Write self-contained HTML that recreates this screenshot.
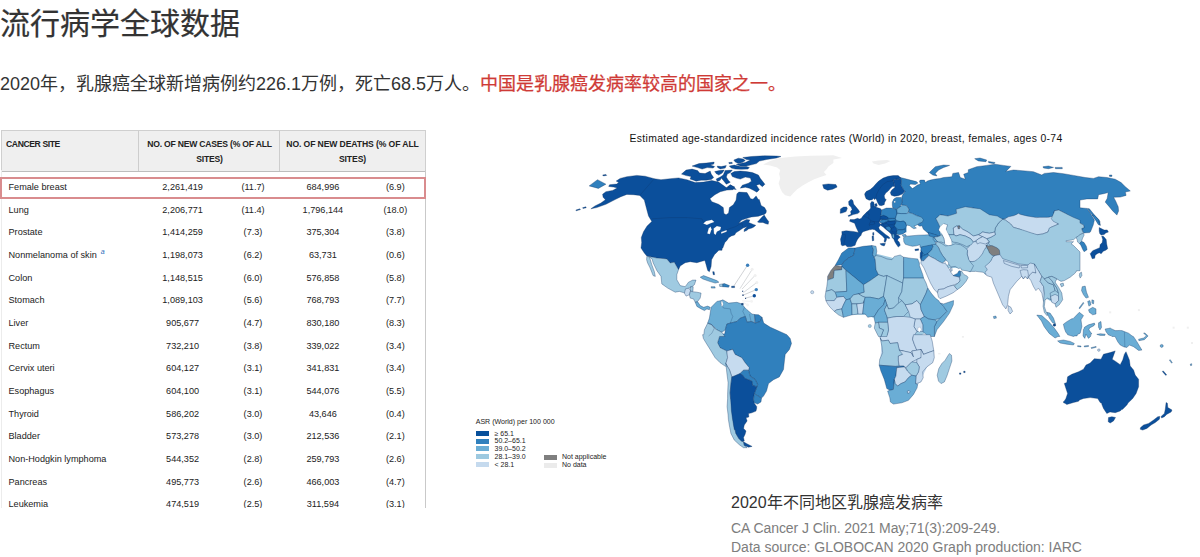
<!DOCTYPE html>
<html lang="zh-CN"><head><meta charset="utf-8"><title>流行病学全球数据</title>
<style>
html,body{margin:0;padding:0;background:#fff;}
body{width:1200px;height:557px;position:relative;overflow:hidden;font-family:"Liberation Sans",sans-serif;color:#333;}
.abs{position:absolute;white-space:nowrap;}
#title{left:0;top:4.3px;font-size:30px;line-height:40px;color:#333;letter-spacing:0;-webkit-text-stroke:0.22px #333;}
#sub{left:0;top:71px;font-size:18px;line-height:26px;color:#333;}
#sub b{color:#cf3a36;font-weight:500;-webkit-text-stroke:0.25px #cf3a36;}
#tbl{position:absolute;left:0;top:130px;width:427px;height:378px;overflow:hidden;}
#tbl .hd{position:absolute;left:1px;top:0px;width:424.5px;height:41.8px;background:#efefef;border:1px solid #cfcfcf;border-bottom:1px solid #bdbdbd;box-sizing:border-box;}
#tbl .vs{position:absolute;top:1px;width:1px;height:40.3px;background:#cdcdcd;}
#tbl .lb{position:absolute;left:1px;top:40px;width:1px;height:340px;background:#ececec;}
#tbl .rb{position:absolute;left:424.5px;top:40px;width:1px;height:340px;background:#c9c9c9;}
#tbl .h{position:absolute;font-weight:bold;font-size:8.6px;line-height:15.3px;color:#222;text-align:center;white-space:nowrap;}
#tbl .red{position:absolute;left:0px;top:46.8px;width:426px;height:22.2px;border:2px solid #d98c8e;box-sizing:border-box;}
.r{position:absolute;left:0;width:427px;height:16px;font-size:9.15px;line-height:16px;color:#222;top:0;}
.r span{position:absolute;top:-130px;white-space:nowrap;}
.r .c0{left:8.5px;}
.r .c1{left:132.6px;width:100px;text-align:center;}
.r .c2{left:203px;width:100px;text-align:center;}
.r .c3{left:272.9px;width:100px;text-align:center;}
.r .c4{left:345.3px;width:100px;text-align:center;}
.r .sup{position:relative;top:-4px;left:4px;font-size:7px;font-style:italic;color:#2a6ebb;}
#maptitle{left:629.5px;top:130.7px;font-size:10.4px;letter-spacing:0.33px;line-height:16px;color:#111;}
#cap1{left:731px;top:492px;font-size:16px;line-height:22px;color:#333;}
#cap2{left:731px;top:518px;font-size:14px;letter-spacing:-0.06px;line-height:20px;color:#7d7d7d;}
#cap3{left:731px;top:537px;font-size:14px;line-height:20px;color:#7d7d7d;}
#map{position:absolute;left:0;top:0;width:1200px;height:557px;pointer-events:none;}
.lg{font-size:7px;line-height:8px;color:#222;}
.lgb{position:absolute;width:13px;height:5px;}
</style></head><body>
<div id="title" class="abs">流行病学全球数据</div>
<div id="sub" class="abs">2020年，乳腺癌全球新增病例约226.1万例，死亡68.5万人。<b>中国是乳腺癌发病率较高的国家之一。</b></div>

<div id="tbl">
 <div class="hd"></div>
 <div class="vs" style="left:138px"></div>
 <div class="vs" style="left:279px"></div>
 <div class="lb"></div><div class="rb"></div>
 <div class="h" style="left:6px;top:7px;text-align:left;letter-spacing:-0.39px">CANCER SITE</div>
 <div class="h" style="left:139.5px;width:140px;top:7px;letter-spacing:-0.21px">NO. OF NEW CASES (% OF ALL<br>SITES)</div>
 <div class="h" style="left:280px;width:145px;top:7px;letter-spacing:-0.1px">NO. OF NEW DEATHS (% OF ALL<br>SITES)</div>
 <div class="red"></div>
<div class="r" style="top:179.20px"><span class="c0">Female breast</span><span class="c1">2,261,419</span><span class="c2">(11.7)</span><span class="c3">684,996</span><span class="c4">(6.9)</span></div>
<div class="r" style="top:201.84px"><span class="c0">Lung</span><span class="c1">2,206,771</span><span class="c2">(11.4)</span><span class="c3">1,796,144</span><span class="c4">(18.0)</span></div>
<div class="r" style="top:224.48px"><span class="c0">Prostate</span><span class="c1">1,414,259</span><span class="c2">(7.3)</span><span class="c3">375,304</span><span class="c4">(3.8)</span></div>
<div class="r" style="top:247.12px"><span class="c0">Nonmelanoma of skin<span class="sup">a</span></span><span class="c1">1,198,073</span><span class="c2">(6.2)</span><span class="c3">63,731</span><span class="c4">(0.6)</span></div>
<div class="r" style="top:269.76px"><span class="c0">Colon</span><span class="c1">1,148,515</span><span class="c2">(6.0)</span><span class="c3">576,858</span><span class="c4">(5.8)</span></div>
<div class="r" style="top:292.40px"><span class="c0">Stomach</span><span class="c1">1,089,103</span><span class="c2">(5.6)</span><span class="c3">768,793</span><span class="c4">(7.7)</span></div>
<div class="r" style="top:315.04px"><span class="c0">Liver</span><span class="c1">905,677</span><span class="c2">(4.7)</span><span class="c3">830,180</span><span class="c4">(8.3)</span></div>
<div class="r" style="top:337.68px"><span class="c0">Rectum</span><span class="c1">732,210</span><span class="c2">(3.8)</span><span class="c3">339,022</span><span class="c4">(3.4)</span></div>
<div class="r" style="top:360.32px"><span class="c0">Cervix uteri</span><span class="c1">604,127</span><span class="c2">(3.1)</span><span class="c3">341,831</span><span class="c4">(3.4)</span></div>
<div class="r" style="top:382.96px"><span class="c0">Esophagus</span><span class="c1">604,100</span><span class="c2">(3.1)</span><span class="c3">544,076</span><span class="c4">(5.5)</span></div>
<div class="r" style="top:405.60px"><span class="c0">Thyroid</span><span class="c1">586,202</span><span class="c2">(3.0)</span><span class="c3">43,646</span><span class="c4">(0.4)</span></div>
<div class="r" style="top:428.24px"><span class="c0">Bladder</span><span class="c1">573,278</span><span class="c2">(3.0)</span><span class="c3">212,536</span><span class="c4">(2.1)</span></div>
<div class="r" style="top:450.88px"><span class="c0">Non-Hodgkin lymphoma</span><span class="c1">544,352</span><span class="c2">(2.8)</span><span class="c3">259,793</span><span class="c4">(2.6)</span></div>
<div class="r" style="top:473.52px"><span class="c0">Pancreas</span><span class="c1">495,773</span><span class="c2">(2.6)</span><span class="c3">466,003</span><span class="c4">(4.7)</span></div>
<div class="r" style="top:496.16px"><span class="c0">Leukemia</span><span class="c1">474,519</span><span class="c2">(2.5)</span><span class="c3">311,594</span><span class="c4">(3.1)</span></div>
</div>

<div id="maptitle" class="abs">Estimated age-standardized incidence rates (World) in 2020, breast, females, ages 0-74</div>
<svg id="map" width="1200" height="557" viewBox="0 0 1200 557">
<g stroke="none">
<polygon points="830.1,276.4 845.1,263.0 873.5,253.0 900.2,259.7 918.6,264.7 925.3,286.4 936.9,301.4 947.0,309.8 935.3,326.5 920.3,336.0 880.2,336.0 876.8,319.8 866.8,314.8 845.1,314.8 833.4,308.1 827.6,293.1" fill="#9fcae1"/>
<polygon points="881.8,336.0 930.2,336.0 932.7,356.0 920.2,381.1 910.1,397.8 893.4,401.9 885.1,377.7 880.1,364.4" fill="#c6dbef"/>
<polygon points="940.0,216.0 1000.0,220.0 1002.7,258.7 973.3,268.0 946.7,268.0 937.3,236.0" fill="#9fcae1"/>
<polygon points="882.7,211.1 896.3,209.3 900.3,206.1 906.4,206.1 906.4,232.2 896.3,234.2 881.2,222.2" fill="#3080bd"/>
<polygon points="920.8,247.5 931.5,245.4 929.4,255.1 921.8,259.9" fill="#3080bd"/>
<polygon points="1043.5,281.4 1055.1,281.4 1060.2,293.1 1056.8,304.8 1045.1,298.1" fill="#9fcae1"/>
</g>
<g stroke-linejoin="round" stroke="#0c2f5e" stroke-opacity="0.85" stroke-width="0.4">
<path d="M590.9,208.8 L596.7,207.6 L605.9,204.3 L615.1,199.6 L620.9,196.7 L626.8,194.4 L633.4,194.7 L639.8,195.4 L644.3,200.1 L646.5,208.4 L648.5,215.9 L651.8,221.5 L647.1,226.0 L643.5,231.8 L641.3,237.6 L641.7,242.4 L641.0,248.0 L644.3,253.0 L646.8,256.0 L656.8,258.0 L666.8,258.9 L670.2,263.0 L674.3,262.2 L678.5,269.7 L680.2,266.0 L685.2,262.7 L690.2,261.7 L696.9,262.7 L702.7,261.0 L704.9,260.5 L706.1,264.7 L707.7,270.5 L709.4,271.7 L711.1,266.4 L711.6,259.7 L714.4,254.7 L718.6,250.5 L719.0,250.3 L722.0,250.3 L722.2,248.3 L722.8,248.0 L724.4,243.8 L725.0,242.3 L725.1,242.2 L726.9,240.4 L728.7,237.7 L731.4,235.9 L734.6,235.0 L735.9,232.8 L739.5,230.5 L743.1,228.0 L747.4,226.5 L747.5,226.6 L744.4,229.2 L744.0,231.6 L746.7,230.5 L748.5,228.9 L751.9,228.0 L753.9,226.9 L755.8,225.3 L753.4,224.4 L750.5,223.3 L748.7,222.4 L749.8,219.9 L746.6,219.4 L746.6,219.4 L742.2,221.7 L738.6,223.5 L740.9,220.8 L741.8,220.1 L746.3,218.6 L746.3,218.6 L751.3,217.0 L753.9,216.7 L758.4,216.2 L762.0,214.9 L764.2,214.4 L766.0,213.0 L766.4,210.8 L764.6,207.6 L761.1,205.4 L759.3,199.6 L758.3,199.6 L756.1,195.9 L753.0,199.2 L750.6,198.7 L747.0,192.6 L738.9,192.1 L736.9,193.7 L736.1,200.1 L733.3,204.8 L729.4,207.6 L728.6,213.1 L726.1,214.8 L723.9,213.4 L723.3,207.6 L718.6,204.3 L711.9,201.8 L709.9,198.7 L714.9,194.7 L720.3,191.7 L726.9,190.1 L732.8,189.7 L734.9,187.1 L730.6,185.1 L726.9,188.1 L722.8,185.1 L718.6,182.1 L711.9,180.6 L703.6,182.1 L695.2,182.6 L686.9,179.7 L678.5,177.9 L670.2,178.7 L661.0,179.7 L654.3,178.7 L645.1,176.2 L636.8,175.4 L626.8,176.7 L620.1,178.4 L616.2,181.1 L618.7,182.6 L616.7,184.1 L609.6,184.7 L608.7,186.4 L613.7,187.1 L617.2,188.1 L612.6,190.4 L605.9,191.7 L602.6,194.2 L603.1,197.2 L605.4,199.7 L600.9,203.1 L595.0,205.9Z" fill="#0b4f9b"/>
<path d="M589.2,185.9 L597.5,179.7 L605.9,184.2 L598.4,188.4Z" fill="#3080bd"/>
<path d="M602.6,175.0 L605.9,174.4 L606.7,175.4 L603.4,175.9Z" fill="#0b4f9b"/>
<path d="M575.8,210.1 L580.0,208.8 L580.4,209.6 L576.3,210.8Z" fill="#0b4f9b"/>
<path d="M582.5,207.8 L585.9,206.8 L586.2,207.8 L583.0,208.4Z" fill="#0b4f9b"/>
<path d="M742.8,157.5 L746.4,159.5 L750.4,160.1 L745.3,162.6 L740.3,163.6 L736.3,164.6 L740.3,165.9 L746.4,166.1 L750.4,165.1 L756.4,163.6 L759.4,161.1 L766.5,159.5 L776.5,158.0 L781.0,156.5 L776.5,156.0 L764.4,155.8 L751.4,156.5Z" fill="#0b4f9b"/>
<path d="M733.8,160.1 L738.3,158.2 L743.3,159.0 L745.3,160.6 L742.3,162.6 L738.3,163.6 L735.3,162.1Z" fill="#0b4f9b"/>
<path d="M729.3,166.1 L734.3,165.1 L740.3,166.6 L746.4,166.6 L749.4,167.6 L747.9,169.1 L741.3,169.3 L735.3,169.1 L731.3,168.1Z" fill="#0b4f9b"/>
<path d="M728.8,162.5 L732.1,162.3 L732.3,163.5 L729.1,163.7Z" fill="#0b4f9b"/>
<path d="M692.1,166.1 L699.1,163.6 L706.2,163.1 L714.2,162.1 L713.7,164.1 L710.2,165.1 L714.7,166.6 L713.2,168.1 L707.2,167.6 L702.1,169.1 L697.6,167.6Z" fill="#0b4f9b"/>
<path d="M717.2,166.1 L721.2,166.6 L726.3,165.6 L725.2,168.1 L720.2,168.9 L717.7,167.6Z" fill="#0b4f9b"/>
<path d="M681.5,174.1 L686.1,170.1 L692.1,169.1 L697.6,170.6 L699.6,173.1 L705.1,173.6 L710.2,171.1 L711.2,174.1 L713.7,177.6 L711.2,179.6 L706.2,180.2 L701.1,180.2 L696.1,181.2 L693.6,180.2 L690.1,179.1 L691.1,176.6 L686.1,175.6Z" fill="#0b4f9b"/>
<path d="M714.7,171.6 L719.2,170.6 L724.2,170.1 L722.2,173.1 L718.7,175.1 L716.2,173.6Z" fill="#0b4f9b"/>
<path d="M725.2,170.6 L732.3,170.1 L730.3,172.6 L727.3,174.1 L726.3,177.1 L728.3,180.2 L730.3,182.2 L726.3,184.2 L723.2,180.2 L721.2,178.1 L720.2,180.2 L717.2,181.4 L716.2,179.1 L720.2,177.1 L723.2,175.1Z" fill="#0b4f9b"/>
<path d="M730.8,173.6 L734.3,171.6 L740.3,171.1 L746.4,171.6 L752.4,172.6 L758.4,175.1 L760.4,178.6 L764.9,184.2 L762.4,186.7 L759.4,184.2 L756.4,185.2 L759.4,189.7 L756.9,192.2 L753.4,190.2 L749.4,188.2 L745.3,187.2 L740.3,188.2 L742.3,185.2 L748.4,183.2 L751.4,181.2 L750.4,178.1 L745.3,177.1 L740.3,179.1 L736.3,178.1 L732.3,176.6Z" fill="#0b4f9b"/>
<path d="M726.3,187.7 L730.3,184.7 L736.3,189.4 L732.3,188.9 L729.3,187.4Z" fill="#0b4f9b"/>
<path d="M703.2,223.5 L706.1,221.0 L711.9,219.8 L714.4,222.1 L710.2,223.5 L706.9,225.1Z" fill="#ffffff" stroke-opacity="0.35"/>
<path d="M707.2,233.5 L708.6,228.5 L710.6,226.5 L711.6,229.3 L709.9,234.3Z" fill="#ffffff" stroke-opacity="0.35"/>
<path d="M713.6,228.5 L716.9,226.0 L721.1,227.1 L720.3,230.1 L716.9,231.8 L715.6,235.1 L713.9,233.5Z" fill="#ffffff" stroke-opacity="0.35"/>
<path d="M721.1,232.1 L726.9,230.1 L726.6,231.8 L721.1,233.8Z" fill="#ffffff" stroke-opacity="0.35"/>
<path d="M822.6,184.7 L828.4,183.9 L835.9,184.6 L837.1,187.1 L832.6,189.2 L827.6,190.2 L823.8,188.4Z" fill="#0b4f9b"/>
<path d="M871.8,161.4 L878.5,160.4 L886.9,160.0 L890.5,160.9 L885.2,163.4 L878.5,165.0 L873.5,163.4Z" fill="#efefef" stroke="none"/>
<path d="M900.9,185.1 L902.9,188.6 L905.0,191.8 L902.8,194.5 L901.8,197.0 L902.3,201.0 L901.3,204.6 L902.3,205.1 L906.4,205.6 L908.9,209.1 L908.4,212.1 L908.9,212.6 L912.4,213.6 L916.4,215.6 L920.0,216.7 L920.0,221.3 L921.0,222.6 L919.4,223.2 L917.4,224.7 L919.9,226.2 L921.9,225.7 L923.4,229.2 L927.5,232.7 L929.5,234.4 L932.5,234.0 L936.5,235.4 L939.5,236.2 L940.5,234.2 L939.6,232.4 L940.0,232.0 L938.7,230.0 L940.0,227.3 L939.5,226.2 L942.5,224.2 L938.5,223.2 L938.0,222.6 L936.0,218.7 L940.0,214.7 L948.0,216.0 L949.4,215.6 L949.6,215.6 L954.6,216.0 L956.0,216.1 L956.0,213.5 L956.7,213.3 L956.4,211.8 L957.0,210.4 L962.0,208.8 L970.6,207.6 L973.2,208.0 L978.3,209.3 L986.7,214.3 L995.0,216.8 L1001.8,218.8 L1002.7,219.3 L1003.2,219.2 L1003.4,219.3 L1003.9,219.0 L1010.7,217.3 L1014.3,215.5 L1020.0,214.3 L1021.3,215.3 L1030.7,218.0 L1036.6,217.6 L1036.8,217.6 L1045.1,218.4 L1048.8,217.3 L1050.7,217.3 L1051.3,218.7 L1052.3,216.3 L1053.5,215.9 L1054.1,211.9 L1054.6,210.9 L1058.5,210.1 L1059.6,210.5 L1067.0,214.2 L1067.0,215.0 L1070.1,218.0 L1075.1,219.5 L1078.1,222.0 L1083.6,225.1 L1084.1,227.6 L1081.6,228.6 L1082.6,231.6 L1084.1,232.9 L1089.6,232.6 L1089.9,231.9 L1090.5,231.8 L1093.2,225.1 L1094.4,220.1 L1090.5,213.4 L1086.9,208.4 L1080.0,207.8 L1080.0,200.1 L1086.9,198.9 L1097.7,198.9 L1098.5,194.7 L1103.6,193.7 L1108.2,192.6 L1107.2,198.4 L1105.2,202.1 L1108.6,205.9 L1112.7,210.9 L1116.9,215.1 L1118.6,210.9 L1118.2,206.8 L1115.6,200.9 L1113.6,197.2 L1120.3,197.1 L1126.1,195.4 L1125.3,192.1 L1130.3,190.9 L1125.3,186.7 L1121.1,182.6 L1115.2,179.2 L1106.9,177.5 L1098.5,176.7 L1093.5,178.4 L1085.2,177.5 L1073.5,175.4 L1063.5,173.7 L1053.5,172.5 L1044.3,173.4 L1041.8,175.0 L1033.4,171.7 L1025.1,170.9 L1013.4,170.0 L1005.9,171.4 L1010.9,166.4 L1003.4,165.4 L995.0,164.2 L986.7,165.4 L976.7,166.7 L968.3,169.7 L968.3,172.5 L963.7,174.2 L965.3,179.2 L960.3,177.5 L958.6,172.5 L952.8,173.4 L952.0,176.7 L943.6,177.5 L939.9,178.5 L935.4,179.0 L930.4,180.1 L927.4,181.1 L925.4,182.6 L924.4,180.1 L920.4,180.1 L919.4,181.1 L920.4,184.1 L917.4,185.1 L915.4,186.6 L912.4,188.6 L909.4,185.6 L910.4,184.1 L915.4,184.6 L917.9,183.1 L916.4,181.6 L910.4,180.1 L904.4,178.5 L900.2,177.5 L901.4,181.1Z" fill="#3080bd"/>
<path d="M929.4,172.5 L935.3,166.7 L943.6,165.0 L949.6,165.4 L943.6,167.5 L938.6,170.0 L935.3,173.4 L936.9,175.9 L932.8,175.0Z" fill="#3080bd"/>
<path d="M848.6,201.5 L851.1,199.2 L852.9,200.5 L853.6,204.1 L856.1,207.1 L858.6,210.1 L859.6,212.1 L857.6,213.6 L853.1,214.6 L848.6,216.6 L848.1,215.6 L851.1,214.3 L850.6,211.6 L852.1,209.6 L851.1,207.1 L848.9,205.1Z" fill="#0b4f9b"/>
<path d="M840.5,208.9 L843.5,207.1 L846.6,206.9 L847.3,208.6 L846.1,211.6 L842.0,213.1 L840.2,213.3Z" fill="#0b4f9b"/>
<path d="M841.0,244.3 L842.0,245.8 L845.5,245.1 L847.1,246.8 L851.1,246.8 L855.1,245.3 L856.1,242.3 L857.6,239.2 L859.6,236.7 L861.1,235.2 L861.6,233.2 L863.1,231.7 L866.2,230.7 L870.2,229.6 L870.2,229.7 L872.2,229.2 L874.7,229.7 L877.2,231.7 L880.2,234.2 L882.7,236.2 L884.7,238.7 L884.0,241.4 L885.2,242.5 L886.3,240.2 L886.8,237.7 L888.3,238.6 L890.0,238.2 L888.8,236.7 L885.2,234.2 L882.2,231.7 L879.2,229.2 L878.7,227.2 L880.8,225.1 L881.2,225.7 L883.2,227.0 L885.7,229.2 L888.8,231.7 L891.3,234.2 L892.3,237.7 L893.8,239.2 L894.8,241.7 L896.3,244.3 L898.3,247.1 L900.3,245.3 L899.3,242.3 L897.5,240.2 L898.3,238.7 L900.3,237.2 L898.8,235.7 L896.3,234.2 L896.8,231.2 L896.3,228.2 L894.3,225.7 L895.5,223.2 L895.3,220.6 L890.3,221.1 L885.7,221.1 L880.2,224.2 L879.2,222.2 L880.2,220.1 L883.2,219.3 L886.3,219.6 L888.8,218.3 L887.3,216.8 L883.7,215.3 L880.7,216.1 L881.2,213.6 L881.7,209.9 L880.2,208.6 L876.2,207.3 L874.4,206.1 L873.7,202.1 L871.7,201.5 L870.4,203.6 L870.7,207.9 L869.2,210.1 L866.2,212.6 L863.1,215.8 L861.1,218.6 L859.3,219.1 L857.6,218.3 L854.1,219.6 L850.1,219.6 L849.6,221.3 L854.6,223.2 L856.1,227.2 L858.6,232.4 L853.1,231.4 L846.1,230.7 L841.8,231.5 L842.0,234.2 L840.5,239.2 L841.0,242.8Z" fill="#0b4f9b"/>
<path d="M874.7,204.1 L876.7,203.6 L877.2,206.1 L875.4,206.9Z" fill="#0b4f9b"/>
<path d="M879.9,243.8 L883.2,243.3 L885.4,243.5 L884.2,246.0 L881.7,245.3Z" fill="#0b4f9b"/>
<path d="M872.0,236.2 L873.5,235.7 L873.8,240.4 L872.4,240.9Z" fill="#0b4f9b"/>
<path d="M872.7,232.7 L873.8,232.4 L873.9,235.0 L872.8,235.2Z" fill="#0b4f9b"/>
<path d="M879.4,221.1 L883.2,219.6 L887.3,219.6 L888.3,221.1 L885.7,222.2 L883.2,223.0 L880.2,222.7Z" fill="#3080bd"/>
<path d="M887.8,219.1 L892.3,218.3 L895.8,218.9 L895.3,220.6 L890.3,221.1 L888.3,220.6Z" fill="#3080bd"/>
<path d="M885.7,226.7 L889.3,226.2 L891.1,228.2 L890.3,231.2 L888.3,230.7 L886.3,228.7Z" fill="#3080bd"/>
<path d="M892.3,234.2 L894.1,234.0 L894.5,237.2 L893.3,238.4 L892.3,236.7Z" fill="#6aadd5"/>
<path d="M881.7,209.9 L886.3,208.1 L891.3,208.1 L895.8,208.9 L896.8,212.1 L896.3,215.6 L895.3,218.3 L892.3,218.3 L888.8,218.3 L887.3,216.8 L883.7,215.3 L880.7,216.1 L881.2,213.6Z" fill="#3080bd"/>
<path d="M892.3,202.1 L893.8,199.0 L896.3,197.5 L901.3,197.5 L902.3,201.0 L901.3,204.6 L899.8,207.1 L896.3,208.9 L892.8,208.1 L892.3,205.1Z" fill="#3080bd"/>
<path d="M893.8,201.2 L895.3,200.8 L895.5,202.5 L894.1,202.7Z" fill="#ffffff" stroke-opacity="0.35"/>
<path d="M896.8,209.1 L899.8,207.1 L902.3,205.1 L906.4,205.6 L908.9,209.1 L908.4,212.1 L906.4,213.6 L901.3,213.6 L897.1,213.1Z" fill="#6aadd5"/>
<path d="M896.3,215.6 L897.3,213.3 L901.3,213.6 L906.4,213.6 L908.9,212.6 L912.4,213.6 L916.4,215.6 L921.4,217.1 L923.4,219.6 L922.4,222.2 L919.4,223.2 L916.4,225.2 L913.9,226.2 L916.4,228.0 L913.9,228.8 L911.4,227.2 L909.9,225.7 L907.4,225.2 L906.4,225.7 L905.3,222.2 L903.3,221.1 L900.3,221.6 L896.3,220.6 L895.5,218.6Z" fill="#6aadd5"/>
<path d="M895.5,223.2 L896.3,221.1 L900.3,221.6 L903.3,221.1 L905.3,222.7 L906.4,225.7 L905.3,228.7 L902.3,229.7 L898.3,229.7 L896.3,228.2 L894.3,225.7Z" fill="#3080bd"/>
<path d="M896.8,230.7 L898.3,229.8 L902.3,229.8 L905.3,229.2 L905.1,232.2 L902.8,234.0 L899.3,234.7 L896.6,234.0Z" fill="#3080bd"/>
<path d="M903.8,241.7 L905.3,244.3 L908.4,245.3 L912.4,246.3 L916.4,245.8 L920.0,244.7 L920.0,247.3 L924.0,247.3 L930.7,245.6 L936.0,244.7 L935.3,242.0 L935.2,241.8 L936.0,239.2 L934.0,236.2 L929.5,234.7 L924.4,235.0 L918.4,235.2 L906.4,236.2 L903.5,237.7Z" fill="#6aadd5"/>
<path d="M902.3,235.0 L905.3,234.2 L906.4,236.0 L903.3,236.7Z" fill="#6aadd5"/>
<path d="M1087.4,208.4 L1089.4,208.8 L1095.2,215.9 L1099.9,221.0 L1100.2,225.5 L1098.5,223.5 L1094.4,217.6 L1090.2,212.6Z" fill="#3080bd"/>
<path d="M974.7,158.7 L980.0,158.0 L986.7,160.0 L985.9,161.7 L978.3,160.9Z" fill="#3080bd"/>
<path d="M988.4,161.4 L995.0,162.5 L994.2,163.7 L988.7,162.7Z" fill="#3080bd"/>
<path d="M1043.0,166.7 L1048.5,166.0 L1053.5,167.4 L1048.5,168.7 L1043.5,168.0Z" fill="#3080bd"/>
<path d="M1055.1,167.4 L1062.2,167.4 L1062.3,168.7 L1055.5,168.7Z" fill="#3080bd"/>
<path d="M1109.4,175.0 L1111.9,175.0 L1111.9,176.4 L1109.6,176.4Z" fill="#3080bd"/>
<path d="M1025.1,231.8 L1036.8,235.1 L1037.4,234.7 L1042.7,234.0 L1048.0,232.0 L1048.7,229.9 L1051.5,227.1 L1058.7,224.0 L1057.2,223.3 L1060.2,221.8 L1056.8,216.8 L1060.2,214.3 L1058.5,210.4 L1054.3,210.9 L1053.5,215.9 L1048.8,217.3 L1040.0,217.3 L1036.6,217.6 L1026.8,215.9 L1019.8,214.2 L1018.7,213.3 L1014.3,215.5 L1008.4,216.8 L1005.2,218.7 L1002.7,219.3 L1005.3,220.0 L1010.7,224.0 L1013.3,227.3 L1019.9,229.2Z" fill="#c6dbef"/>
<path d="M648.5,256.4 L656.8,258.0 L666.8,258.9 L670.2,263.0 L674.3,262.2 L678.5,269.7 L676.8,274.7 L676.8,279.7 L680.2,285.6 L685.2,286.7 L688.5,282.2 L692.7,280.1 L696.0,280.1 L694.4,284.7 L691.9,286.7 L688.9,288.1 L686.9,290.6 L685.2,293.1 L679.3,291.4 L675.2,292.2 L667.7,288.1 L661.8,283.9 L661.0,276.4 L656.8,270.5 L653.1,262.7 L652.1,258.9Z" fill="#9fcae1"/>
<path d="M646.8,256.4 L649.5,257.0 L651.8,264.7 L654.3,271.4 L655.3,276.4 L653.1,275.6 L650.1,268.0 L647.6,263.0 L646.6,259.7Z" fill="#9fcae1"/>
<path d="M685.5,288.9 L688.9,288.1 L690.5,290.6 L689.4,294.8 L686.0,296.1 L684.4,293.1Z" fill="#c6dbef"/>
<path d="M690.5,286.7 L693.2,286.7 L692.9,291.4 L690.5,291.1Z" fill="#9fcae1"/>
<path d="M689.4,294.8 L690.5,291.4 L696.9,292.2 L701.1,293.1 L700.2,298.1 L697.7,301.4 L695.2,302.3 L693.5,298.9 L690.2,298.1Z" fill="#9fcae1"/>
<path d="M695.2,302.3 L697.7,301.8 L700.2,305.6 L703.6,307.3 L707.7,306.1 L710.2,307.3 L709.4,309.8 L706.9,308.9 L704.4,310.6 L701.1,308.9 L696.9,306.4Z" fill="#6aadd5"/>
<path d="M700.2,277.2 L703.6,275.6 L710.2,278.1 L716.9,280.6 L718.9,282.2 L715.2,283.1 L708.6,281.1 L702.7,278.9Z" fill="#6aadd5"/>
<path d="M711.1,286.7 L714.9,286.7 L715.2,288.1 L711.4,288.1Z" fill="#6aadd5"/>
<path d="M719.4,284.4 L722.8,283.9 L722.8,286.7 L719.7,286.4Z" fill="#9fcae1"/>
<path d="M722.8,283.9 L724.4,283.6 L729.4,285.6 L728.6,287.2 L722.8,286.7Z" fill="#3080bd"/>
<path d="M731.6,286.2 L734.6,286.2 L734.6,287.6 L731.6,287.6Z" fill="#0b4f9b"/>
<path d="M712.7,271.7 L714.1,271.7 L714.6,274.7 L713.2,274.7Z" fill="#0b4f9b"/>
<path d="M711.1,307.3 L713.6,304.8 L716.9,301.4 L721.1,300.6 L722.8,299.8 L728.6,303.1 L736.9,302.3 L742.0,303.9 L744.5,307.3 L747.0,309.8 L752.0,314.0 L754.5,314.5 L754.5,322.8 L751.1,321.5 L747.0,322.3 L745.3,316.5 L740.3,318.1 L736.9,321.5 L730.3,323.1 L726.9,324.0 L725.3,329.8 L721.9,332.3 L716.9,329.8 L711.9,324.8 L707.7,323.1 L709.4,318.1 L710.2,313.1Z" fill="#6aadd5"/>
<path d="M754.5,314.5 L758.6,314.8 L762.0,317.3 L760.3,321.5 L755.3,323.1Z" fill="#3080bd"/>
<path d="M724.8,333.8 L720.1,334.7 L717.6,342.7 L720.1,347.7 L726.8,351.0 L732.6,349.4 L735.1,354.4 L741.8,357.7 L745.1,362.7 L749.3,367.7 L748.5,370.2 L750.1,376.1 L755.1,379.4 L757.6,384.4 L756.8,386.9 L754.3,393.6 L761.5,398.1 L763.5,396.1 L766.5,391.1 L768.5,383.6 L773.5,379.7 L779.3,376.9 L783.5,369.4 L784.4,361.0 L785.2,354.4 L789.4,349.4 L791.5,343.5 L790.2,338.5 L786.9,334.7 L770.4,327.3 L763.7,323.1 L762.0,317.3 L760.3,321.5 L755.3,323.1 L751.1,321.5 L747.0,322.3 L745.3,316.5 L740.3,318.1 L736.9,321.5 L730.3,323.1 L726.9,324.0 L725.3,329.8Z" fill="#3080bd"/>
<path d="M704.4,329.8 L703.8,334.7 L702.6,334.7 L703.4,338.5 L705.9,342.7 L710.1,349.4 L715.1,357.7 L720.1,362.7 L725.1,366.1 L727.6,366.9 L725.9,363.5 L727.6,357.7 L726.8,351.0 L720.1,347.7 L717.6,342.7 L719.5,336.5 L724.9,336.5 L721.9,332.3 L716.9,329.8 L714.4,328.1 L711.9,324.8 L707.7,323.1Z" fill="#9fcae1"/>
<path d="M741.6,303.4 L743.3,303.4 L743.3,304.8 L741.6,304.8Z" fill="#0b4f9b"/>
<path d="M848.5,248.0 L855.1,248.0 L854.3,252.2 L853.5,255.5 L848.5,258.0 L844.3,261.4 L841.8,264.7 L835.1,265.5 L838.4,259.7 L841.8,253.0Z" fill="#3080bd"/>
<path d="M835.1,265.5 L841.8,266.4 L841.8,269.7 L834.3,270.5 L833.4,278.1 L827.6,280.1 L827.6,276.4 L830.9,270.5Z" fill="#7f7f7f"/>
<path d="M855.1,248.0 L863.5,246.3 L871.8,245.5 L873.5,249.7 L872.7,254.7 L875.2,259.7 L876.0,269.7 L878.5,274.7 L870.2,280.6 L863.5,284.7 L853.5,276.4 L841.8,266.4 L841.8,264.7 L844.3,261.4 L848.5,258.0 L853.5,255.5 L854.3,252.2Z" fill="#3080bd"/>
<path d="M871.8,245.5 L876.0,246.3 L876.8,251.3 L876.0,255.5 L874.3,257.2 L872.7,254.7 L873.5,249.7Z" fill="#6aadd5"/>
<path d="M876.0,255.5 L881.0,256.4 L886.9,258.9 L891.9,259.7 L894.4,256.4 L900.2,255.0 L903.6,257.2 L903.6,264.7 L903.6,278.1 L902.7,283.1 L886.9,275.6 L883.5,276.4 L878.5,274.7 L876.0,269.7 L875.2,259.7 L874.3,257.2Z" fill="#9fcae1"/>
<path d="M903.6,257.2 L911.9,258.4 L917.7,258.9 L919.4,263.0 L919.4,265.5 L922.8,274.7 L923.6,278.1 L903.6,278.1Z" fill="#6aadd5"/>
<path d="M827.6,280.1 L833.4,278.1 L834.3,270.5 L841.8,269.7 L841.8,266.4 L846.0,270.5 L846.8,291.4 L835.1,292.2 L831.8,289.7 L825.9,291.4 L826.8,286.4Z" fill="#9fcae1"/>
<path d="M846.0,270.5 L853.5,276.4 L863.5,284.7 L864.3,292.2 L858.5,293.9 L853.5,294.8 L850.1,298.9 L846.0,299.8 L843.5,296.4 L836.8,297.3 L835.1,292.2 L846.8,291.4Z" fill="#6aadd5"/>
<path d="M863.5,284.7 L870.2,280.6 L878.5,274.7 L883.5,276.4 L886.9,275.6 L885.2,286.4 L883.5,296.4 L878.5,298.9 L870.2,297.3 L865.2,297.3 L862.7,296.4 L858.5,293.9 L864.3,292.2Z" fill="#9fcae1"/>
<path d="M886.9,275.6 L902.7,283.1 L901.9,291.4 L898.5,298.1 L898.5,303.1 L893.5,308.1 L888.5,308.9 L886.9,304.8 L885.2,299.8 L883.5,296.4 L885.2,286.4Z" fill="#9fcae1"/>
<path d="M902.7,283.1 L903.6,278.1 L923.6,278.1 L926.1,283.1 L927.8,288.1 L926.1,293.1 L922.8,299.8 L920.3,304.8 L916.9,300.6 L911.9,303.9 L905.2,304.8 L901.9,300.6 L898.5,298.1 L901.9,291.4Z" fill="#9fcae1"/>
<path d="M825.9,291.4 L831.8,289.7 L835.1,292.2 L836.8,297.3 L834.3,300.6 L825.9,300.6 L825.1,296.4Z" fill="#9fcae1"/>
<path d="M825.9,300.6 L834.3,300.6 L836.8,297.3 L843.5,296.4 L846.0,299.8 L843.5,304.8 L841.8,308.9 L836.8,309.8 L834.3,311.4 L830.1,307.3 L827.6,303.9Z" fill="#c6dbef"/>
<path d="M834.3,311.4 L836.8,309.8 L841.8,308.9 L843.5,317.3 L838.4,314.8Z" fill="#9fcae1"/>
<path d="M843.5,304.8 L846.0,299.8 L850.1,298.9 L851.8,303.9 L852.1,314.8 L843.5,317.3 L841.8,308.9Z" fill="#6aadd5"/>
<path d="M850.1,298.9 L853.5,294.8 L858.5,293.9 L862.7,296.4 L865.2,297.3 L863.5,303.1 L856.8,303.9 L851.8,303.9Z" fill="#9fcae1"/>
<path d="M851.8,303.9 L856.8,303.9 L858.1,314.0 L852.1,314.8Z" fill="#9fcae1"/>
<path d="M856.8,303.9 L863.5,303.1 L864.3,300.6 L863.5,306.4 L862.7,314.0 L858.1,314.0Z" fill="#c6dbef"/>
<path d="M864.3,300.6 L865.2,297.3 L870.2,297.3 L878.5,298.9 L883.5,296.4 L885.2,299.8 L883.5,304.8 L878.5,309.8 L874.3,316.5 L871.8,316.5 L867.7,317.3 L865.2,314.0 L862.7,314.0 L863.5,306.4Z" fill="#6aadd5"/>
<path d="M885.2,299.8 L886.9,304.8 L884.4,309.8 L886.9,316.5 L887.7,322.3 L878.5,322.3 L875.2,323.1 L874.3,319.0 L874.3,316.5 L878.5,309.8 L883.5,304.8Z" fill="#6aadd5"/>
<path d="M886.9,304.8 L888.5,308.9 L893.5,308.1 L898.5,303.1 L901.9,300.6 L905.2,304.8 L908.6,311.4 L903.6,316.5 L896.9,316.5 L891.9,317.3 L887.7,318.1 L886.9,316.5 L884.4,309.8Z" fill="#9fcae1"/>
<path d="M905.2,304.8 L911.9,303.9 L916.9,300.6 L920.3,304.8 L921.1,309.8 L924.4,316.5 L920.3,319.0 L915.2,319.0 L910.2,317.3 L908.6,311.4Z" fill="#c6dbef"/>
<path d="M922.8,299.8 L926.1,293.1 L927.8,288.1 L931.1,293.1 L935.3,298.1 L938.6,300.6 L940.3,303.1 L943.6,306.4 L947.0,311.4 L940.3,318.1 L934.4,319.8 L928.6,319.0 L924.4,316.5 L921.1,309.8 L920.3,304.8Z" fill="#6aadd5"/>
<path d="M940.3,303.1 L943.6,303.9 L953.6,300.6 L953.3,304.8 L949.5,313.1 L943.6,321.5 L936.9,329.8 L934.4,336.5 L934.4,326.5 L936.9,321.5 L940.3,318.1 L947.0,311.4 L943.6,306.4Z" fill="#6aadd5"/>
<path d="M924.4,316.5 L928.6,319.0 L934.4,319.8 L936.9,321.5 L934.4,326.5 L934.4,336.5 L928.6,336.5 L922.8,331.5 L922.8,324.8 L920.3,319.0Z" fill="#6aadd5"/>
<path d="M915.2,319.0 L920.3,319.0 L922.8,324.8 L922.8,331.5 L916.9,331.5 L913.9,326.5Z" fill="#c6dbef"/>
<path d="M888.5,329.8 L887.3,334.7 L880.1,334.7 L880.1,337.7 L881.8,341.0 L888.4,340.2 L890.1,343.5 L897.6,342.7 L899.3,350.2 L903.5,351.0 L911.0,352.7 L913.5,356.9 L911.8,351.0 L916.8,350.2 L914.3,344.3 L912.6,339.3 L913.1,336.5 L913.6,336.5 L916.9,331.5 L913.9,326.5 L915.2,319.0 L910.2,317.3 L903.6,316.5 L896.9,316.5 L891.9,317.3 L887.7,318.1 L887.7,322.3Z" fill="#c6dbef"/>
<path d="M878.5,322.3 L887.7,322.3 L888.5,329.8 L886.9,336.5 L881.0,336.5 L883.5,329.8 L879.3,328.1Z" fill="#9fcae1"/>
<path d="M875.2,323.1 L878.5,322.3 L879.3,328.1 L883.5,329.8 L881.0,336.5 L878.5,336.5 L876.8,333.2 L874.3,328.1Z" fill="#9fcae1"/>
<path d="M917.9,327.8 L920.3,327.0 L921.3,329.8 L919.6,332.3 L917.9,331.1Z" fill="#ffffff" stroke-opacity="0.35"/>
<path d="M914.9,249.3 L918.6,248.8 L918.6,250.3 L915.2,250.7Z" fill="#0b4f9b"/>
<path d="M998.7,222.7 L995.3,228.0 L994.7,232.0 L995.3,234.7 L990.7,237.3 L986.7,238.7 L989.1,241.7 L986.7,241.7 L991.7,247.2 L997.5,249.7 L999.2,256.0 L1003.4,260.5 L1020.1,265.5 L1027.6,265.5 L1028.3,264.8 L1034.0,265.3 L1036.0,270.7 L1038.4,270.7 L1041.8,276.4 L1044.3,278.9 L1048.5,277.2 L1051.8,276.4 L1056.8,278.9 L1061.0,281.4 L1064.3,280.6 L1070.2,277.2 L1075.2,273.1 L1076.1,271.3 L1076.6,271.3 L1076.7,270.7 L1080.0,270.7 L1080.0,252.0 L1073.3,245.3 L1071.1,243.8 L1073.5,241.7 L1071.2,241.7 L1066.2,241.7 L1066.1,240.7 L1072.0,240.0 L1072.5,239.7 L1073.1,240.1 L1076.1,237.6 L1076.8,237.1 L1080.0,236.0 L1080.0,234.6 L1083.6,233.1 L1082.6,231.6 L1081.6,228.6 L1084.1,227.6 L1083.6,225.1 L1080.0,223.1 L1080.0,220.0 L1073.3,217.3 L1066.7,214.0 L1058.7,210.0 L1054.7,210.7 L1051.3,218.7 L1053.3,221.3 L1058.7,224.0 L1049.3,228.0 L1048.0,232.0 L1042.7,234.0 L1037.3,234.7 L1030.7,232.7 L1022.7,230.0 L1013.3,227.3 L1010.7,224.0 L1005.3,220.0 L1002.7,219.3Z" fill="#9fcae1"/>
<path d="M967.4,251.8 L967.1,254.0 L968.4,258.4 L968.7,261.3 L970.0,261.5 L970.3,262.1 L971.8,261.8 L973.3,262.0 L973.4,261.9 L975.0,262.2 L980.0,259.7 L981.7,256.4 L982.1,256.1 L982.5,254.8 L983.4,253.0 L987.5,248.8 L986.7,245.3 L989.3,242.0 L986.3,243.5 L985.9,241.7 L970.0,241.7 L969.3,246.4 L966.7,248.7Z" fill="#c6dbef"/>
<path d="M968.7,261.3 L969.6,263.1 L969.2,264.7 L969.2,271.4 L975.0,271.4 L975.4,271.3 L983.2,272.3 L985.4,274.4 L988.6,272.3 L989.1,267.5 L991.8,265.8 L989.7,263.1 L990.3,261.8 L990.9,261.4 L991.3,260.3 L992.7,258.7 L992.4,257.3 L995.0,255.5 L990.9,252.2 L988.0,249.3 L986.7,245.3 L985.7,248.3 L985.4,248.1 L983.2,251.8 L982.9,252.9 L982.7,253.3 L979.6,257.4 L978.9,257.8 L976.9,259.8 L974.6,261.2 L972.1,261.7 L970.0,261.4 L970.0,261.5Z" fill="#9fcae1"/>
<path d="M987.5,248.8 L988.0,249.3 L989.3,252.7 L992.0,255.3 L996.0,256.0 L999.7,254.8 L999.7,254.8 L1000.0,254.7 L999.3,250.0 L997.3,248.0 L992.0,245.6 L988.2,245.9 L985.9,245.0Z" fill="#7f7f7f"/>
<path d="M989.3,262.7 L985.0,266.4 L987.2,269.2 L986.7,270.5 L985.0,272.2 L986.7,275.6 L991.7,277.2 L993.4,283.1 L998.4,294.8 L1002.6,304.8 L1005.9,308.9 L1007.6,304.8 L1008.4,296.4 L1010.1,289.7 L1016.7,281.4 L1021.8,276.4 L1023.4,278.9 L1025.1,276.4 L1027.6,278.9 L1030.1,274.7 L1032.6,272.2 L1035.9,273.1 L1036.3,270.7 L1036.3,270.7 L1036.8,268.0 L1034.3,263.9 L1030.1,263.0 L1028.3,264.8 L1026.7,264.7 L1018.7,264.0 L1010.7,261.3 L1002.7,258.7 L1000.0,254.6 L995.0,255.5 L992.5,257.2 L991.3,260.3Z" fill="#c6dbef"/>
<path d="M1008.1,305.6 L1010.9,307.3 L1012.6,311.4 L1010.1,314.0 L1008.1,310.6Z" fill="#c6dbef"/>
<path d="M1034.3,263.9 L1036.8,268.0 L1041.8,276.4 L1040.1,281.4 L1043.5,286.4 L1044.3,293.1 L1045.1,299.8 L1043.5,301.4 L1041.8,293.1 L1038.4,288.1 L1035.9,290.6 L1033.4,286.4 L1030.9,280.6 L1028.4,277.2 L1030.1,274.7 L1032.6,272.2 L1035.9,273.1Z" fill="#c6dbef"/>
<path d="M1040.1,281.4 L1041.8,276.4 L1044.3,278.9 L1048.5,283.1 L1053.5,284.7 L1055.1,290.6 L1050.1,293.1 L1051.0,299.8 L1047.6,298.1 L1045.1,299.8 L1044.3,306.4 L1046.0,311.4 L1048.5,314.8 L1046.8,315.6 L1044.3,312.3 L1043.1,306.4 L1043.5,301.4 L1044.3,293.1 L1043.5,286.4Z" fill="#9fcae1"/>
<path d="M1044.3,278.9 L1048.5,277.2 L1051.8,280.6 L1056.8,288.1 L1058.5,293.1 L1055.1,290.6 L1053.5,284.7 L1048.5,283.1Z" fill="#9fcae1"/>
<path d="M1048.5,277.2 L1051.8,276.4 L1056.8,278.9 L1055.1,282.2 L1058.5,287.2 L1061.8,293.1 L1062.7,299.8 L1059.3,304.8 L1056.0,307.3 L1055.1,303.9 L1058.5,300.6 L1058.5,293.1 L1056.8,288.1 L1051.8,280.6Z" fill="#9fcae1"/>
<path d="M1050.6,296.4 L1055.1,294.4 L1058.5,296.1 L1058.5,300.6 L1055.1,303.9 L1051.8,302.3Z" fill="#c6dbef"/>
<path d="M1046.8,312.3 L1050.1,313.1 L1053.5,318.1 L1055.5,324.0 L1052.6,322.8 L1049.3,318.1Z" fill="#6aadd5"/>
<path d="M1053.6,324.5 L1054.6,324.0 L1055.6,324.5 L1055.6,325.8 L1054.6,326.3 L1053.6,325.8Z" fill="#0b4f9b"/>
<path d="M1041.4,320.9 L1044.2,326.7 L1049.2,333.4 L1055.1,338.0 L1058.0,336.5 L1059.8,336.5 L1058.5,334.0 L1054.3,328.1 L1048.5,321.5 L1041.8,315.6 L1036.8,315.1Z" fill="#6aadd5"/>
<path d="M1067.7,334.8 L1073.5,336.5 L1074.8,335.9 L1077.1,335.9 L1077.4,334.5 L1080.2,333.2 L1081.9,326.5 L1081.0,319.8 L1083.5,315.6 L1079.3,312.3 L1075.2,316.5 L1073.0,318.7 L1071.8,318.7 L1066.8,321.7 L1063.4,324.2 L1064.3,328.3 L1065.9,332.5 L1066.7,333.0Z" fill="#6aadd5"/>
<path d="M1082.2,286.7 L1085.2,286.1 L1086.5,292.2 L1088.5,297.3 L1086.0,298.1 L1083.5,294.8 L1081.5,290.6Z" fill="#6aadd5"/>
<path d="M1088.5,309.8 L1092.7,307.3 L1096.0,308.9 L1096.0,314.0 L1092.7,314.8 L1089.4,312.3Z" fill="#6aadd5"/>
<path d="M1087.7,301.4 L1089.9,300.6 L1091.0,304.8 L1088.9,306.1Z" fill="#6aadd5"/>
<path d="M1091.9,299.8 L1093.9,300.6 L1093.5,303.9 L1091.9,303.1Z" fill="#6aadd5"/>
<path d="M1079.0,308.1 L1083.2,302.4 L1083.9,303.1 L1079.7,308.8Z" fill="#6aadd5"/>
<path d="M1079.8,273.1 L1081.5,272.2 L1081.9,275.6 L1080.2,278.1 L1079.3,275.6Z" fill="#9fcae1"/>
<path d="M1060.2,283.9 L1063.2,283.1 L1063.8,285.6 L1061.5,286.9Z" fill="#9fcae1"/>
<path d="M1084.1,328.5 L1083.5,329.2 L1083.0,335.9 L1084.8,338.4 L1086.0,334.2 L1088.5,338.4 L1091.0,335.9 L1090.2,334.5 L1091.9,334.0 L1088.9,329.8 L1089.6,327.9 L1093.8,325.8 L1093.7,325.2 L1094.9,324.8 L1094.4,323.1 L1088.5,324.8 L1086.8,325.8 L1084.4,327.3Z" fill="#6aadd5"/>
<path d="M1098.5,326.1 L1098.5,326.7 L1098.5,326.8 L1098.5,327.3 L1099.4,328.8 L1099.8,330.0 L1099.9,329.9 L1101.5,327.5 L1101.4,326.7 L1101.6,326.5 L1101.3,325.3 L1101.0,321.7 L1100.6,321.8 L1100.6,321.5 L1099.7,322.2 L1098.8,322.5 L1098.8,322.9 L1098.5,323.1Z" fill="#6aadd5"/>
<path d="M1105.1,329.0 L1106.0,331.7 L1108.5,335.0 L1111.1,335.7 L1111.9,336.5 L1114.4,336.5 L1115.2,336.7 L1117.7,341.7 L1120.2,345.0 L1123.5,346.7 L1126.9,347.5 L1129.4,345.0 L1133.6,346.7 L1138.6,350.4 L1141.9,350.1 L1136.9,341.7 L1133.9,337.2 L1133.6,336.7 L1131.9,335.8 L1128.6,333.2 L1121.9,330.6 L1120.9,330.6 L1120.2,330.4 L1117.2,330.6 L1115.2,330.6 L1111.7,328.9 L1110.2,328.0 L1108.1,328.5Z" fill="#6aadd5"/>
<path d="M993.4,316.5 L995.9,316.0 L996.4,318.1 L993.9,318.6Z" fill="#6aadd5"/>
<path d="M1109.2,311.3 L1111.2,311.3 L1111.2,313.3 L1109.2,313.3Z" fill="#efefef" stroke="none"/>
<path d="M1137.9,309.1 L1139.9,309.1 L1139.9,311.1 L1137.9,311.1Z" fill="#efefef" stroke="none"/>
<path d="M726.8,351.0 L732.6,349.4 L735.1,354.4 L741.8,357.7 L745.1,362.7 L749.3,367.7 L748.5,370.2 L743.5,370.2 L740.1,373.6 L734.3,376.1 L731.8,376.9 L729.3,369.4 L727.6,366.9 L725.9,363.5 L727.6,357.7Z" fill="#c6dbef"/>
<path d="M743.5,370.2 L748.5,370.2 L750.1,376.1 L755.1,379.4 L757.6,384.4 L756.8,386.9 L752.6,385.2 L751.8,381.1 L745.1,378.6 L742.6,375.2 L740.1,373.6Z" fill="#3080bd"/>
<path d="M725.9,363.5 L726.8,372.7 L728.1,382.7 L727.6,394.4 L727.6,398.7 L727.1,406.7 L728.1,415.0 L728.1,415.4 L728.4,419.5 L729.0,423.2 L729.3,425.0 L729.8,427.8 L730.1,429.5 L730.2,429.5 L730.9,433.4 L734.3,440.1 L739.3,444.7 L743.5,447.7 L747.1,447.7 L744.3,445.4 L743.5,441.7 L741.8,441.4 L738.8,438.4 L735.9,433.4 L734.3,426.7 L733.1,418.4 L732.1,410.0 L732.1,398.7 L730.6,398.7 L730.1,392.8 L730.9,384.4 L731.8,376.9 L729.3,369.4 L727.6,366.9Z" fill="#9fcae1"/>
<path d="M730.9,384.4 L730.1,392.8 L730.9,402.8 L731.4,411.1 L732.6,419.5 L734.3,429.5 L735.0,429.5 L735.9,433.4 L738.8,438.4 L741.8,441.4 L744.3,440.9 L743.5,437.6 L745.1,434.2 L746.0,430.9 L743.6,428.5 L744.0,426.2 L744.3,425.0 L747.1,420.9 L746.0,417.8 L748.8,417.0 L748.7,416.4 L748.8,416.4 L748.5,413.6 L751.8,412.8 L756.0,411.1 L756.8,407.8 L756.6,407.5 L756.8,406.7 L754.3,403.3 L753.5,399.0 L754.3,393.6 L756.8,386.9 L752.6,385.2 L751.8,381.1 L745.1,378.6 L742.6,375.2 L740.1,373.6 L734.3,376.1 L731.8,376.9Z" fill="#0b4f9b"/>
<path d="M754.3,393.6 L761.5,398.1 L761.0,401.9 L757.6,404.1 L754.3,402.8 L753.5,399.4Z" fill="#3080bd"/>
<path d="M743.5,441.7 L746.8,443.7 L752.1,446.4 L748.5,447.2 L744.3,445.4Z" fill="#0b4f9b"/>
<path d="M913.5,334.7 L930.2,334.7 L932.2,341.0 L933.8,350.7 L930.2,351.9 L923.5,354.4 L921.0,349.4 L916.8,350.2 L914.3,344.3 L912.6,339.3Z" fill="#c6dbef"/>
<path d="M880.1,337.7 L881.8,341.0 L888.4,340.2 L890.1,343.5 L897.6,342.7 L899.3,350.2 L903.5,351.0 L902.6,354.4 L898.4,356.0 L898.4,361.0 L899.3,366.1 L895.1,366.4 L879.2,365.2 L879.7,359.4 L882.6,352.7 L881.8,346.0Z" fill="#9fcae1"/>
<path d="M899.3,350.2 L903.5,351.0 L911.0,352.7 L913.5,356.9 L911.8,351.0 L916.8,350.2 L921.0,349.4 L923.5,354.4 L921.0,357.7 L916.8,359.4 L911.8,361.9 L906.0,367.7 L903.5,366.1 L899.3,366.1 L898.4,361.0 L898.4,356.0 L902.6,354.4Z" fill="#c6dbef"/>
<path d="M921.0,349.4 L923.5,354.4 L930.2,351.9 L933.8,350.7 L934.3,357.7 L932.7,362.7 L926.8,366.9 L922.7,371.9 L923.2,377.7 L921.0,381.9 L918.1,383.1 L915.5,383.6 L916.0,376.1 L918.5,371.9 L919.3,366.9 L916.8,362.7 L916.8,359.4 L921.0,357.7Z" fill="#c6dbef"/>
<path d="M879.2,365.2 L895.1,366.4 L903.5,366.1 L904.3,366.9 L896.8,367.7 L895.9,376.1 L894.3,379.4 L893.4,389.4 L890.1,390.3 L886.8,388.6 L884.3,379.4 L880.9,371.1Z" fill="#3080bd"/>
<path d="M896.8,367.7 L904.3,366.9 L907.6,371.1 L911.8,375.2 L908.5,377.7 L905.1,381.9 L901.0,383.6 L897.6,386.1 L895.1,383.6 L894.3,379.4 L895.9,376.1Z" fill="#c6dbef"/>
<path d="M906.0,367.7 L911.8,361.9 L916.8,362.7 L919.3,366.9 L918.5,371.9 L916.0,376.1 L911.8,375.2 L907.6,371.1Z" fill="#9fcae1"/>
<path d="M890.1,390.3 L893.4,389.4 L894.3,379.4 L895.1,383.6 L897.6,386.1 L901.0,383.6 L905.1,381.9 L908.5,377.7 L911.8,375.2 L916.0,376.1 L915.5,383.6 L917.6,384.4 L917.1,387.8 L913.5,394.4 L908.5,400.3 L901.8,402.8 L893.4,404.1 L890.4,401.9 L889.8,397.8 L887.6,391.1Z" fill="#6aadd5"/>
<path d="M907.3,391.1 L908.8,390.4 L910.1,391.8 L909.1,393.4 L907.5,393.1Z" fill="#c6dbef"/>
<path d="M949.4,353.5 L951.5,355.2 L951.9,361.0 L949.4,368.6 L946.9,376.1 L944.4,381.9 L941.0,383.6 L938.5,381.1 L937.2,375.2 L938.8,368.6 L941.9,363.5 L945.2,360.2 L947.7,356.0Z" fill="#9fcae1"/>
<path d="M959.5,372.9 L960.9,372.9 L960.9,374.2 L959.5,374.2Z" fill="#0b4f9b"/>
<path d="M963.7,371.2 L965.1,371.2 L965.1,372.6 L963.7,372.6Z" fill="#0b4f9b"/>
<path d="M938.2,352.9 L940.5,352.9 L940.5,354.4 L938.2,354.4Z" fill="#efefef" stroke="none"/>
<path d="M961.9,336.0 L963.9,336.0 L963.9,337.7 L961.9,337.7Z" fill="#efefef" stroke="none"/>
<path d="M1053.4,324.2 L1055.1,324.2 L1055.1,325.8 L1053.4,325.8Z" fill="#0b4f9b"/>
<path d="M1057.6,340.9 L1063.4,340.0 L1070.1,341.4 L1074.3,343.4 L1073.5,345.0 L1066.8,344.2 L1060.1,343.0Z" fill="#6aadd5"/>
<path d="M1077.6,345.7 L1081.0,346.0 L1081.0,346.9 L1077.6,346.5Z" fill="#6aadd5"/>
<path d="M1084.3,345.9 L1088.5,345.5 L1088.5,346.5 L1084.3,346.9Z" fill="#6aadd5"/>
<path d="M1091.0,347.7 L1096.0,346.4 L1096.3,347.2 L1091.5,348.5Z" fill="#6aadd5"/>
<path d="M1097.8,349.2 L1099.5,348.9 L1100.2,350.4 L1098.8,351.4 L1097.7,350.7Z" fill="#c6dbef"/>
<path d="M1096.8,334.4 L1100.2,333.7 L1105.2,334.2 L1104.8,335.4 L1100.2,335.4Z" fill="#6aadd5"/>
<path d="M1138.6,339.2 L1143.6,338.0 L1146.4,335.9 L1143.6,333.0 L1144.9,333.0 L1148.1,335.9 L1144.4,339.7 L1138.9,340.7Z" fill="#6aadd5"/>
<path d="M1160.3,345.0 L1161.6,344.4 L1163.1,345.0 L1163.1,346.7 L1161.6,347.5 L1160.3,346.7Z" fill="#6aadd5"/>
<path d="M1162.3,371.4 L1163.3,370.9 L1166.6,374.8 L1165.8,375.4Z" fill="#0b4f9b"/>
<path d="M1190.3,364.1 L1191.7,363.7 L1191.7,365.4 L1190.5,365.6Z" fill="#6aadd5"/>
<path d="M1169.4,360.1 L1170.3,359.7 L1172.3,362.7 L1171.5,363.1Z" fill="#6aadd5"/>
<path d="M1172.6,326.7 L1174.6,326.7 L1174.6,328.7 L1172.6,328.7Z" fill="#efefef" stroke="none"/>
<path d="M1186.8,326.7 L1188.8,326.7 L1188.8,328.7 L1186.8,328.7Z" fill="#efefef" stroke="none"/>
<path d="M1191.0,342.0 L1193.0,342.0 L1193.0,344.0 L1191.0,344.0Z" fill="#efefef" stroke="none"/>
<path d="M1063.1,402.0 L1063.6,402.3 L1063.4,402.6 L1065.3,403.5 L1066.8,404.5 L1073.5,402.5 L1078.5,401.3 L1079.5,399.9 L1083.5,398.5 L1090.2,397.6 L1097.7,398.5 L1100.2,402.6 L1100.3,402.6 L1102.1,403.7 L1101.8,404.3 L1103.5,408.5 L1106.8,413.5 L1110.0,411.9 L1113.5,412.5 L1113.7,412.4 L1115.2,412.7 L1120.2,411.0 L1121.7,409.5 L1122.7,409.2 L1126.9,405.0 L1127.8,403.4 L1128.5,402.6 L1132.7,398.5 L1136.1,393.5 L1138.6,386.8 L1138.6,379.3 L1135.2,375.1 L1133.6,370.1 L1130.2,365.9 L1129.4,360.1 L1126.0,351.7 L1124.4,354.2 L1122.7,360.1 L1120.2,364.7 L1116.0,361.7 L1112.2,359.2 L1115.2,350.9 L1110.2,352.6 L1103.5,354.2 L1101.0,359.2 L1094.3,358.7 L1090.2,363.1 L1086.0,365.1 L1083.5,369.2 L1078.5,371.8 L1071.8,374.3 L1067.6,376.8 L1066.8,382.6 L1064.3,383.4 L1067.6,393.5 L1065.9,398.5 L1064.4,401.0Z" fill="#0b4f9b"/>
<path d="M1108.5,417.5 L1111.9,416.7 L1115.5,417.5 L1113.5,420.9 L1110.2,423.0 L1108.2,421.7Z" fill="#0b4f9b"/>
<path d="M1166.1,402.5 L1167.4,403.3 L1167.8,407.5 L1172.0,410.0 L1171.1,412.0 L1166.9,414.2 L1164.4,416.7 L1161.6,418.0 L1161.1,416.4 L1164.4,413.4 L1165.3,409.2Z" fill="#0b4f9b"/>
<path d="M1140.6,427.5 L1143.6,425.0 L1148.6,423.4 L1153.6,420.0 L1157.8,416.7 L1159.9,416.4 L1159.4,419.2 L1155.3,422.5 L1151.1,425.0 L1146.9,428.4 L1142.7,430.1 L1140.2,429.2Z" fill="#0b4f9b"/>
<path d="M936.0,218.7 L940.0,214.7 L948.0,216.0 L956.7,213.3 L956.0,209.3 L965.3,206.7 L973.3,208.0 L980.0,208.7 L989.3,214.7 L997.3,216.0 L1002.7,219.3 L998.7,222.7 L995.3,228.0 L994.7,232.0 L989.3,233.3 L982.7,232.0 L978.7,234.7 L973.3,236.0 L968.0,232.0 L962.7,229.3 L960.0,226.7 L956.7,226.0 L953.3,228.0 L954.0,234.7 L948.7,234.7 L946.0,230.7 L947.3,224.7 L944.0,224.0 L940.0,227.3 L938.0,222.7Z" fill="#9fcae1"/>
<path d="M953.3,228.0 L956.7,226.0 L960.0,226.7 L962.7,229.3 L968.0,232.0 L973.3,236.0 L978.7,234.7 L982.7,236.7 L978.7,238.7 L976.0,240.7 L973.3,242.0 L970.7,238.7 L965.3,236.0 L960.0,234.7 L956.0,236.0 L954.0,234.7Z" fill="#c6dbef"/>
<path d="M957.7,226.0 L959.5,225.6 L959.7,228.7 L958.0,228.7Z" fill="#7f7f7f"/>
<path d="M948.7,234.7 L954.0,234.7 L956.0,236.0 L960.0,234.7 L965.3,236.0 L970.7,238.7 L973.3,242.0 L971.3,244.7 L966.7,246.7 L962.7,244.7 L957.3,242.7 L952.7,242.0 L951.3,240.0Z" fill="#9fcae1"/>
<path d="M978.7,234.7 L982.7,232.0 L989.3,233.3 L994.7,232.0 L995.3,234.7 L990.7,237.3 L986.7,238.7 L982.7,236.7Z" fill="#c6dbef"/>
<path d="M976.0,240.7 L978.7,238.7 L982.7,236.7 L986.7,238.7 L989.3,242.0 L985.3,244.0 L980.0,242.7 L977.3,244.0Z" fill="#c6dbef"/>
<path d="M940.0,226.7 L943.3,223.7 L947.3,224.7 L946.0,229.3 L948.7,234.7 L951.3,240.0 L952.0,244.7 L948.7,246.0 L944.7,244.0 L944.0,238.7 L942.0,234.0 L938.7,230.0Z" fill="#ffffff" stroke-opacity="0.35"/>
<path d="M928.0,232.3 L933.3,234.0 L937.3,235.3 L938.0,236.7 L933.3,237.1 L929.3,236.0Z" fill="#3080bd"/>
<path d="M934.0,237.1 L938.0,236.7 L942.0,234.7 L944.0,238.7 L944.7,243.3 L941.3,242.0 L938.0,242.0 L936.0,240.0Z" fill="#9fcae1"/>
<path d="M933.3,237.1 L936.0,240.0 L938.0,242.0 L935.3,242.0 L933.1,239.3Z" fill="#6aadd5"/>
<path d="M1092.2,215.0 L1094.2,215.0 L1098.7,219.5 L1098.2,220.5 L1100.2,225.1 L1098.2,224.5 L1096.2,221.0 L1093.7,217.5Z" fill="#3080bd"/>
<path d="M1076.1,237.6 L1080.1,234.6 L1083.6,233.1 L1084.1,235.1 L1082.6,238.1 L1081.6,241.3 L1079.6,243.6 L1077.6,242.1 L1077.1,239.6Z" fill="#9fcae1"/>
<path d="M1079.6,243.6 L1081.6,241.3 L1084.1,242.6 L1086.3,246.2 L1087.1,249.7 L1084.1,251.7 L1082.6,249.2 L1081.1,245.7Z" fill="#3080bd"/>
<path d="M1099.2,227.6 L1101.2,228.6 L1104.2,230.1 L1107.2,229.9 L1108.4,232.1 L1105.7,232.9 L1104.2,234.6 L1101.2,235.1 L1099.7,233.6 L1099.2,231.1Z" fill="#0b4f9b"/>
<path d="M1101.7,236.1 L1103.7,236.6 L1106.2,239.6 L1106.7,244.1 L1107.7,248.7 L1105.7,250.2 L1103.2,251.2 L1101.2,253.7 L1099.2,252.7 L1097.2,253.7 L1095.2,255.2 L1094.7,258.2 L1092.2,258.7 L1091.2,256.2 L1090.2,253.7 L1092.7,250.7 L1096.2,249.2 L1099.7,247.7 L1100.2,244.6 L1102.2,242.6 L1102.7,239.6Z" fill="#0b4f9b"/>
<path d="M720.8,301.4 L722.3,300.9 L723.3,303.9 L722.6,306.8 L721.3,306.1Z" fill="#ffffff" stroke-opacity="0.35"/>
<path d="M935.8,244.3 L936.9,241.6 L941.2,243.2 L945.5,245.9 L950.9,245.4 L955.2,243.8 L960.6,244.8 L964.9,247.5 L967.6,250.2 L967.1,254.0 L968.7,259.4 L970.3,262.1 L973.5,265.8 L971.9,269.1 L970.3,271.8 L966.0,270.7 L961.7,270.1 L960.6,268.0 L958.4,268.5 L955.2,266.4 L951.4,266.9 L949.3,265.3 L947.7,261.5 L945.5,259.4 L942.3,255.1 L940.1,251.3 L938.5,247.5Z" fill="#9fcae1"/>
<path d="M921.3,247.0 L926.1,245.9 L932.1,244.8 L933.1,246.5 L931.5,250.2 L927.8,253.5 L925.1,255.1 L922.4,252.9 L920.8,250.2Z" fill="#3080bd"/>
<path d="M920.2,252.9 L921.3,250.8 L922.4,252.9 L922.1,256.1 L921.3,260.5 L920.2,257.8Z" fill="#0b4f9b"/>
<path d="M922.1,256.1 L925.1,255.1 L927.8,253.5 L928.8,255.6 L926.1,258.3 L923.5,261.0 L921.3,260.5Z" fill="#3080bd"/>
<path d="M932.1,244.8 L935.8,244.3 L938.5,247.5 L940.1,251.3 L942.3,255.1 L945.5,259.4 L944.4,261.5 L942.3,263.1 L939.1,261.5 L934.8,258.8 L931.5,257.2 L928.8,255.6 L927.8,253.5 L931.5,250.2 L933.1,246.5Z" fill="#6aadd5"/>
<path d="M921.3,260.5 L923.5,261.0 L926.1,258.3 L928.8,255.6 L931.5,257.2 L934.8,258.8 L939.1,261.5 L942.3,263.1 L945.0,263.1 L947.1,265.8 L949.3,269.1 L950.9,272.3 L953.1,275.5 L959.5,277.1 L960.1,280.9 L957.4,283.6 L953.1,285.2 L947.7,286.8 L943.4,289.0 L938.5,289.5 L937.5,292.8 L934.2,289.5 L930.5,283.1 L927.2,275.5 L924.0,268.0 L920.8,263.1Z" fill="#c6dbef"/>
<path d="M950.3,267.8 L951.8,267.3 L952.2,270.7 L950.9,271.4Z" fill="#c6dbef"/>
<path d="M953.1,275.5 L957.4,273.4 L959.0,270.7 L960.6,271.2 L960.6,275.5 L959.5,277.1Z" fill="#3080bd"/>
<path d="M959.5,277.1 L960.6,275.5 L960.6,271.2 L961.7,271.2 L963.8,274.4 L967.1,276.1 L968.1,277.7 L966.0,281.4 L963.3,284.7 L960.6,287.4 L957.4,289.5 L955.8,287.9 L954.1,285.8 L957.4,283.6 L960.1,280.9Z" fill="#9fcae1"/>
<path d="M937.5,292.8 L938.5,289.5 L943.4,289.0 L947.7,286.8 L953.1,285.2 L954.1,285.8 L955.8,287.9 L957.4,289.5 L953.1,292.8 L946.6,296.0 L940.1,298.7 L938.5,297.1Z" fill="#c6dbef"/>
<path d="M944.7,261.1 L947.1,260.8 L948.5,263.1 L947.9,265.3 L946.1,264.2Z" fill="#ffffff" stroke-opacity="0.35"/>
<path d="M757.5,222.0 L762.0,217.1 L764.2,215.0 L765.1,216.6 L766.9,219.3 L768.7,221.5 L768.2,224.2 L766.0,223.8 L762.9,222.4 L759.3,222.6Z" fill="#0b4f9b"/>
<path d="M763.1,164.6 L770.1,161.1 L780.2,158.1 L795.2,156.5 L810.3,155.8 L825.4,155.5 L833.4,155.2 L842.0,158.1 L833.4,159.6 L833.4,163.1 L828.4,166.6 L826.4,169.6 L823.9,172.1 L826.4,175.1 L820.4,177.1 L814.3,179.2 L808.3,182.2 L802.3,185.7 L797.2,189.2 L793.2,193.2 L790.2,196.4 L785.2,195.2 L782.2,192.2 L780.2,188.2 L778.6,183.2 L780.2,178.2 L779.1,174.1 L780.2,170.1 L777.1,167.6 L770.1,165.6Z" fill="#efefef" stroke="none"/>
<path d="M864.6,194.1 L866.1,191.6 L870.2,189.6 L873.2,187.1 L876.2,183.6 L878.7,181.1 L883.2,178.1 L888.2,176.3 L893.3,175.6 L898.3,175.6 L900.3,177.6 L898.8,179.6 L896.3,179.1 L893.3,180.1 L894.3,184.1 L894.8,186.3 L892.3,186.6 L890.3,188.6 L888.2,191.1 L885.7,193.1 L884.2,195.7 L884.7,198.2 L886.2,199.7 L884.7,202.2 L884.2,204.7 L881.2,205.7 L879.2,205.2 L877.7,202.7 L876.7,200.2 L875.7,198.2 L874.7,199.7 L873.7,198.2 L872.2,199.7 L869.1,200.2 L866.1,198.7 L865.1,196.2Z" fill="#0b4f9b"/>
<path d="M893.3,180.1 L896.3,179.1 L898.8,179.6 L900.3,177.6 L901.3,181.1 L900.8,185.1 L902.8,188.6 L904.8,191.6 L902.3,194.1 L898.3,195.7 L894.3,196.2 L891.3,195.2 L890.3,192.6 L891.8,190.1 L894.8,187.6 L894.8,186.3 L894.3,184.1Z" fill="#0b4f9b"/>
<path d="M1003.4,260.5 L1011.7,263.0 L1020.1,265.5 L1019.2,268.0 L1011.7,266.4 L1004.2,263.4Z" fill="#c6dbef"/>
<path d="M1020.9,265.5 L1027.6,265.5 L1027.6,267.7 L1021.4,268.0Z" fill="#c6dbef"/>
<path d="M1020.1,270.5 L1023.4,269.7 L1027.6,270.0 L1028.4,274.7 L1027.6,278.9 L1025.1,276.4 L1023.4,278.9 L1021.4,275.6Z" fill="#c6dbef"/>
</g><g fill="none" stroke="#0c2f5e" stroke-opacity="0.6" stroke-width="0.4">
<polyline points="654.3,178.7 639.8,195.4"/>
<polyline points="651.8,218.8 670.2,217.6 686.9,217.6 701.9,218.8 703.6,222.6"/>
<polyline points="1124.4,332.0 1124.9,347.5"/>
<polyline points="842.0,234.2 845.5,234.7 845.0,239.2 844.0,243.3 843.5,245.5"/>
<polyline points="858.3,232.2 860.1,233.2 862.1,233.5"/>
<polyline points="863.1,215.8 866.2,217.1 869.2,218.6 870.7,220.6 870.2,222.2 869.2,224.2 869.7,226.2"/>
<polyline points="866.2,212.6 868.0,213.6 869.2,214.9 868.7,217.1 869.2,218.6"/>
<polyline points="869.2,210.1 868.4,212.6 869.2,214.9"/>
<polyline points="870.7,220.6 874.2,221.6 877.2,221.9 879.4,221.1"/>
<polyline points="870.2,222.2 874.2,221.8 875.0,223.7 872.2,224.7 869.7,224.4"/>
<polyline points="870.7,207.1 874.4,206.6"/>
<polyline points="880.7,216.1 880.2,218.6 879.4,221.1"/>
<polyline points="880.2,218.6 883.2,219.3 886.3,219.6"/>
<polyline points="885.7,221.1 886.3,223.2 888.3,224.7 892.3,224.7 895.5,223.2"/>
<polyline points="880.2,224.2 883.2,224.4 886.3,223.2"/>
<polyline points="883.2,224.4 884.2,226.7 885.7,226.7"/>
<polyline points="888.3,224.7 889.3,226.2 891.1,228.2 893.8,227.7 894.3,225.7"/>
<polyline points="891.1,228.2 892.3,231.7 891.3,234.2"/>
<polyline points="892.3,231.7 895.3,232.2 896.8,231.2"/>
<polyline points="894.1,234.0 896.3,234.2"/>
<polyline points="894.1,236.2 896.3,236.2 898.8,235.7"/>
<polyline points="721.1,300.6 721.1,303.9 723.6,308.1 730.3,308.9 731.1,313.1 732.8,316.5 730.3,323.1"/>
<polyline points="744.5,307.3 742.8,311.4 745.3,316.5"/>
<polyline points="749.5,314.0 750.3,318.1 751.1,321.5"/>
<polyline points="707.7,323.1 711.9,324.8 714.4,328.1 711.9,333.2 708.6,336.0"/>
<polyline points="726.0,230.1 730.5,228.3 735.9,226.5 739.5,224.2 742.2,223.5 742.6,226.9"/>
<polyline points="875.7,198.2 876.7,194.1 878.7,190.1 882.2,185.1 887.2,181.6 891.3,181.1 893.3,180.1"/>
</g>
<g stroke="#2a3340" stroke-width="0.3" stroke-opacity="0.75" fill="none">
<line x1="733.6" y1="286.4" x2="747.4" y2="265.4"/>
<line x1="740" y1="288.6" x2="751.9" y2="269.8" stroke-opacity="0.6"/>
<line x1="742" y1="289.1" x2="754.8" y2="275.7" stroke-opacity="0.6"/>
<line x1="743.5" y1="292.5" x2="756.5" y2="282.7" stroke-opacity="0.6"/>
<line x1="743.5" y1="295" x2="755.8" y2="289.8"/>
<line x1="745.9" y1="298" x2="753.8" y2="296"/>
<line x1="742" y1="300.9" x2="751.4" y2="301.4" stroke-opacity="0.25"/>
<line x1="743.5" y1="302.4" x2="747.4" y2="304.9" stroke-opacity="0.25"/>
</g>
<g stroke="none">
<circle cx="747.6" cy="265.2" r="1.7" fill="#3a7fbc"/>
<circle cx="752.1" cy="269.3" r="1.5" fill="#f0f0f0"/>
<circle cx="755.1" cy="275.5" r="1.5" fill="#f0f0f0"/>
<circle cx="756.8" cy="282.5" r="1.5" fill="#f0f0f0"/>
<circle cx="756.3" cy="289.6" r="1.7" fill="#3a7fbc"/>
<circle cx="754.3" cy="295.7" r="1.7" fill="#0d4f9a"/>
<circle cx="751.6" cy="301.4" r="1.4" fill="#f4f4f4"/>
<circle cx="747.6" cy="305" r="1.4" fill="#f4f4f4"/>
<rect x="742.2" y="290.7" width="1" height="1.2" fill="#1d3f73"/>
<rect x="742.4" y="294.4" width="1.2" height="1.6" fill="#1d3f73"/>
<rect x="745" y="297.8" width="1.1" height="1.1" fill="#1d3f73"/>
<rect x="741.6" y="303.4" width="1.2" height="1.2" fill="#1d3f73"/>
</g>
<g stroke="#3a5578" stroke-width="0.3">
<circle cx="812.2" cy="292.2" r="1.6" fill="#c6dbef"/>
<circle cx="869.8" cy="326" r="1.6" fill="#9fcae1"/>
</g>

</svg>
<!-- legend -->
<div class="abs lg" style="left:475.7px;top:417.5px;font-size:7.05px;">ASR (World) per 100 000</div>
<div class="lgb" style="left:476px;top:430.8px;background:#08509b"></div>
<div class="lgb" style="left:476px;top:438.7px;background:#3080bd"></div>
<div class="lgb" style="left:476px;top:446.3px;background:#6aadd5"></div>
<div class="lgb" style="left:476px;top:454.3px;background:#9dc9e0"></div>
<div class="lgb" style="left:476px;top:462px;background:#c5daee"></div>
<div class="abs lg" style="left:494.5px;top:429.5px">≥ 65.1</div>
<div class="abs lg" style="left:494.5px;top:437.3px">50.2–65.1</div>
<div class="abs lg" style="left:494.5px;top:445px">39.0–50.2</div>
<div class="abs lg" style="left:494.5px;top:453px">28.1–39.0</div>
<div class="abs lg" style="left:494.5px;top:460.7px">&lt; 28.1</div>
<div class="lgb" style="left:543.5px;top:455.2px;background:#7f7f7f"></div>
<div class="lgb" style="left:543.5px;top:462.8px;background:#ebebeb"></div>
<div class="abs lg" style="left:562px;top:453.3px">Not applicable</div>
<div class="abs lg" style="left:562px;top:461.4px">No data</div>

<div id="cap1" class="abs">2020年不同地区乳腺癌发病率</div>
<div id="cap2" class="abs">CA Cancer J Clin. 2021 May;71(3):209-249.</div>
<div id="cap3" class="abs">Data source: GLOBOCAN 2020 Graph production: IARC</div>
</body></html>
